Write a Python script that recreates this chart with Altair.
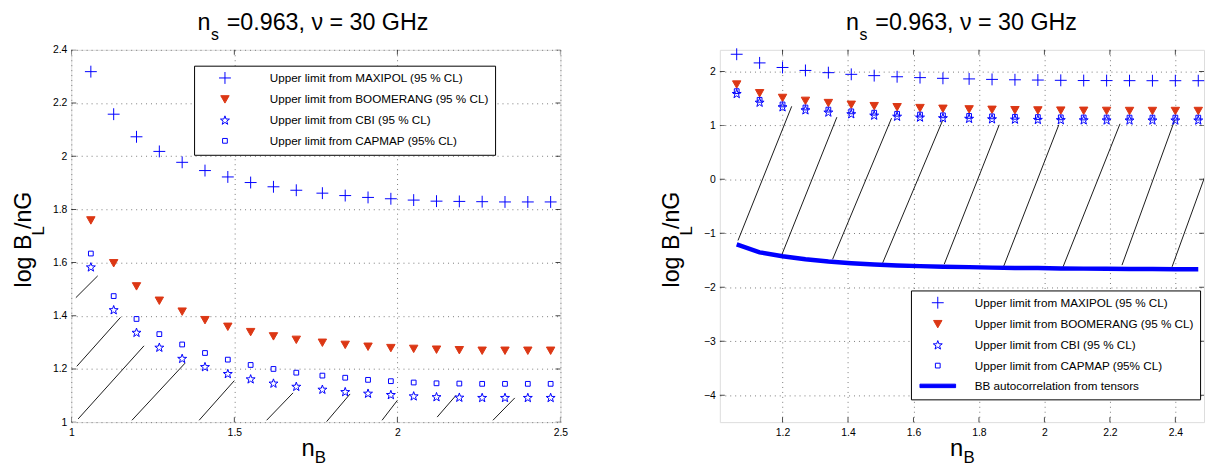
import altair as alt
import pandas as pd

FONT = "Liberation Sans"

# ---------------- data ----------------
nB = [1.06, 1.13, 1.20, 1.27, 1.34, 1.41, 1.48, 1.55, 1.62, 1.69, 1.77,
      1.84, 1.91, 1.98, 2.05, 2.12, 2.19, 2.26, 2.33, 2.40, 2.47]
maxipol = [2.318, 2.158, 2.073, 2.018, 1.977, 1.946, 1.922, 1.901, 1.885, 1.872, 1.861,
           1.852, 1.845, 1.840, 1.835, 1.831, 1.830, 1.829, 1.828, 1.828, 1.828]
boomerang = [1.759, 1.598, 1.511, 1.457, 1.416, 1.384, 1.359, 1.339, 1.323, 1.310, 1.299,
             1.291, 1.284, 1.279, 1.276, 1.273, 1.271, 1.269, 1.269, 1.269, 1.269]
cbi = [1.582, 1.421, 1.336, 1.280, 1.238, 1.207, 1.181, 1.161, 1.145, 1.133, 1.122,
       1.113, 1.107, 1.102, 1.097, 1.094, 1.092, 1.091, 1.091, 1.091, 1.091]
capmap = [1.634, 1.474, 1.388, 1.331, 1.292, 1.260, 1.235, 1.215, 1.200, 1.186, 1.175,
          1.167, 1.159, 1.154, 1.149, 1.146, 1.145, 1.144, 1.144, 1.144, 1.144]
bb_tensors = [-1.207, -1.353, -1.426, -1.481, -1.523, -1.554, -1.578, -1.596, -1.609, -1.621, -1.627,
              -1.636, -1.642, -1.645, -1.651, -1.655, -1.658, -1.660, -1.662, -1.665, -1.665]

series_names = [
    "Upper limit from MAXIPOL (95 % CL)",
    "Upper limit from BOOMERANG (95 % CL)",
    "Upper limit from CBI (95 % CL)",
    "Upper limit from CAPMAP (95% CL)",
    "BB autocorrelation from tensors",
]

# hatch segments (excluded region), left panel
hatchL_x1 = [1.014, 1.017, 1.021, 1.186, 1.392, 1.599, 1.783, 1.953, 2.122, 2.293]
hatchL_y1 = [1.468, 1.210, 1.012, 1.007, 1.007, 1.007, 1.002, 1.007, 1.019, 1.007]
hatchL_x2 = [1.081, 1.151, 1.223, 1.349, 1.500, 1.680, 1.855, 2.000, 2.180, 2.360]
hatchL_y2 = [1.550, 1.394, 1.287, 1.222, 1.156, 1.110, 1.106, 1.082, 1.101, 1.091]
# hatch segments, right panel
hatchR_x1 = [1.064, 1.198, 1.353, 1.506, 1.694, 1.875, 2.057, 2.237, 2.390]
hatchR_y1 = [-1.133, -1.395, -1.481, -1.548, -1.572, -1.621, -1.621, -1.590, -1.621]
hatchR_x2 = [1.228, 1.366, 1.533, 1.689, 1.862, 2.044, 2.231, 2.398, 2.551]
hatchR_y2 = [1.353, 1.152, 1.133, 1.091, 1.011, 1.011, 1.029, 1.097, 1.070]

xticks_L = [1, 1.5, 2, 2.5]
yticks_L = [1, 1.2, 1.4, 1.6, 1.8, 2, 2.2, 2.4]
xticks_R = [1.2, 1.4, 1.6, 1.8, 2, 2.2, 2.4]
yticks_R = [-4, -3, -2, -1, 0, 1, 2]

BLUE = "#0000FF"
RED = "#DC3714"

PLUS = "M-1.2,0H1.2M0,-1.2V1.2"
TRI = "M-0.85,-0.72L0.85,-0.72L0,0.78Z"
STAR = ("M0,-0.95L0.2234,-0.3074L0.9035,-0.2936L0.3614,0.1174L0.5584,0.7686L0,0.38"
        "L-0.5584,0.7686L-0.3614,0.1174L-0.9035,-0.2936L-0.2234,-0.3074Z")
SQUARE = "M-0.48,-0.48H0.48V0.48H-0.48Z"
BAR = "M-3.6,-0.35H3.6V0.35H-3.6Z"

H = 376
NBSP = "\u00a0"


def points_df():
    rows = []
    for name, vals in zip(series_names[:4], [maxipol, boomerang, cbi, capmap]):
        for x, y in zip(nB, vals):
            rows.append({"x": x, "y": y, "series": name})
    return pd.DataFrame(rows)


def text_layer(txt, px, py, size, angle=0):
    return alt.Chart(pd.DataFrame({"t": [txt]})).mark_text(
        align="left", baseline="alphabetic", font=FONT, fontSize=size,
        color="black", angle=angle
    ).encode(text="t:N", x=alt.value(px), y=alt.value(py))


def panel(width, xdom, xticks, ydom, yticks, ndom, legend, hx1, hy1, hx2, hy2, with_bb):
    xs = alt.Scale(domain=xdom, nice=False, zero=False)
    ys = alt.Scale(domain=ydom, nice=False, zero=False)
    common = dict(title=None, grid=True, ticks=False, domain=False, labelFont=FONT,
                  labelFontSize=10.5, labelColor="black", gridColor="#7a7a7a",
                  gridOpacity=1, gridDash=[1, 4], gridWidth=1, labelOverlap=False)
    xax = alt.Axis(values=xticks, format="~g", labelFlush=False, labelPadding=6, **common)
    yax = alt.Axis(values=yticks, format="~g", labelPadding=4.5, **common)

    shapes_all = [PLUS, TRI, STAR, SQUARE, BAR]
    fills_all = ["transparent", RED, "transparent", "transparent", BLUE]
    strokes_all = [BLUE, RED, BLUE, BLUE, BLUE]
    n = len(ndom)

    hatch = alt.Chart(pd.DataFrame({"x1": hx1, "y1": hy1, "x2": hx2, "y2": hy2})).mark_rule(
        color="black", strokeWidth=0.9, clip=True
    ).encode(
        x=alt.X("x1:Q", scale=xs, axis=xax), y=alt.Y("y1:Q", scale=ys, axis=yax),
        x2="x2:Q", y2="y2:Q"
    )

    pts = alt.Chart(points_df()).mark_point(size=100, strokeWidth=1, opacity=1).encode(
        x=alt.X("x:Q", scale=xs, axis=xax),
        y=alt.Y("y:Q", scale=ys, axis=yax),
        shape=alt.Shape("series:N", scale=alt.Scale(domain=ndom, range=shapes_all[:n]), legend=legend),
        fill=alt.Fill("series:N", scale=alt.Scale(domain=ndom, range=fills_all[:n]), legend=legend),
        stroke=alt.Stroke("series:N", scale=alt.Scale(domain=ndom, range=strokes_all[:n]), legend=legend),
    )

    layers = [hatch]
    if with_bb:
        bb = alt.Chart(pd.DataFrame({"x": nB, "y": bb_tensors})).mark_line(
            color=BLUE, strokeWidth=4.5, strokeCap="butt", clip=True
        ).encode(x=alt.X("x:Q", scale=xs, axis=xax), y=alt.Y("y:Q", scale=ys, axis=yax))
        layers.append(bb)
    layers.append(pts)

    # inward tick marks on all four sides
    tick_style = dict(color="black", thickness=1, size=10, clip=True)
    xt = pd.DataFrame({"v": xticks})
    yt = pd.DataFrame({"v": yticks})
    layers.append(alt.Chart(xt).mark_tick(orient="vertical", **tick_style).encode(
        x=alt.X("v:Q", scale=xs, axis=xax), y=alt.value(H)))
    layers.append(alt.Chart(xt).mark_tick(orient="vertical", **tick_style).encode(
        x=alt.X("v:Q", scale=xs, axis=xax), y=alt.value(0)))
    layers.append(alt.Chart(yt).mark_tick(orient="horizontal", **tick_style).encode(
        y=alt.Y("v:Q", scale=ys, axis=yax), x=alt.value(0)))
    layers.append(alt.Chart(yt).mark_tick(orient="horizontal", **tick_style).encode(
        y=alt.Y("v:Q", scale=ys, axis=yax), x=alt.value(width)))

    # title and axis titles with subscripts
    layers += [
        text_layer("n", 127.5, -20.3, 23.5),
        text_layer("s", 141, -10.3, 16),
        text_layer("=0.963, \u03bd = 30 GHz", 157, -20.3, 23.5),
        text_layer("n", 232.5, H + 33.7, 24),
        text_layer("B", 246, H + 41.5, 17),
        text_layer("log B", -41, 240, 23.5, 270),
        text_layer("L", -27.7, 187.5, 17, 270),
        text_layer("/nG", -41, 181, 23.5, 270),
    ]
    return alt.layer(*layers).properties(width=width, height=H)


leg_common = dict(title=None, orient="none", padding=6.5, strokeColor="black", fillColor="white",
                  labelFont=FONT, labelFontSize=11.8, labelColor="black", symbolSize=100,
                  symbolStrokeWidth=1, rowPadding=7.5, labelLimit=500, symbolOpacity=1)

legend_L = alt.Legend(legendX=124, legendY=16, symbolOffset=18.8, labelOffset=39.3,
                      labelExpr="datum.label + '" + NBSP * 14 + "'", **leg_common)
legend_R = alt.Legend(legendX=193, legendY=243, symbolOffset=14.7, labelOffset=31.5,
                      **leg_common)

left = panel(494, [1, 2.5], xticks_L, [1, 2.4], yticks_L, series_names[:4], legend_L,
             hatchL_x1, hatchL_y1, hatchL_x2, hatchL_y2, False)
right = panel(489, [1.0085, 2.4876], xticks_R, [-4.5, 2.4], yticks_R, series_names, legend_R,
              hatchR_x1, hatchR_y1, hatchR_x2, hatchR_y2, True)

chart = alt.hconcat(left, right, spacing=92).resolve_scale(
    x="independent", y="independent", shape="independent", fill="independent", stroke="independent"
).resolve_legend(
    shape="independent", fill="independent", stroke="independent"
).properties(
    padding={"left": 11, "top": 8, "right": 0, "bottom": 0}
).configure_view(
    stroke="black", strokeWidth=1.3
).configure(background="white")

chart.save("out.html", embed_options={"renderer": "svg", "actions": False})
